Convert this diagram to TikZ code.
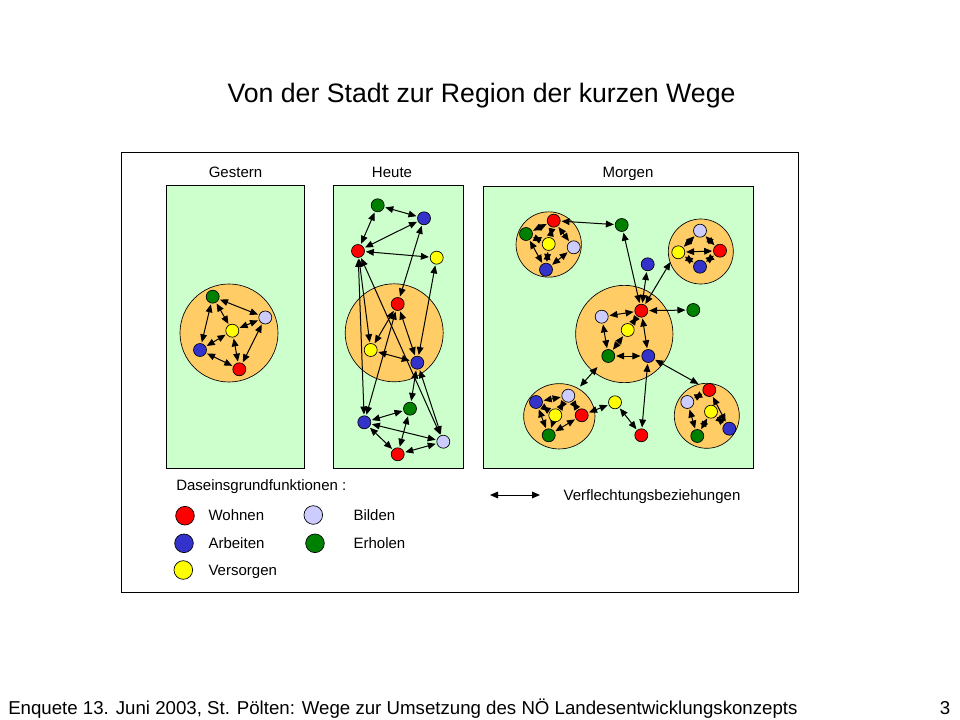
\documentclass[tikz,border=0pt]{standalone}
\usepackage{fontspec}
\setmainfont{Liberation Sans}
\usetikzlibrary{arrows.meta,shapes.geometric}
\definecolor{panelgreen}{RGB}{204,255,204}
\definecolor{zoneorange}{RGB}{255,204,102}
\definecolor{wred}{RGB}{255,0,0}
\definecolor{wblue}{RGB}{51,51,204}
\definecolor{wyellow}{RGB}{255,255,0}
\definecolor{wlav}{RGB}{204,204,255}
\definecolor{wgreen}{RGB}{0,128,0}
\pgfdeclarelayer{bg}
\pgfdeclarelayer{mid}
\pgfsetlayers{bg,mid,main}
\tikzset{
  fn/.style={circle, draw=black, line width=0.5pt, minimum size=9.75pt, inner sep=0pt, outer sep=0pt},
  Wo/.style={fn, fill=wred},
  Ar/.style={fn, fill=wblue},
  Ve/.style={fn, fill=wyellow},
  Bi/.style={fn, fill=wlav},
  Er/.style={fn, fill=wgreen},
  lfn/.style={circle, draw=black, line width=0.5pt, minimum size=14pt, inner sep=0pt},
  link/.style={line width=0.75pt, {Triangle[length=6pt,width=5pt]}-{Triangle[length=6pt,width=5pt]}, shorten <=1pt, shorten >=1pt},
  panel/.style={draw=black, line width=0.75pt, fill=panelgreen},
  zone/.style={circle, draw=black, line width=0.5pt, fill=zoneorange, inner sep=0pt},
  lbl/.style={font=\fontsize{11.25}{13}\selectfont, inner sep=0pt},
}
\begin{document}
\begin{tikzpicture}[x=0.75pt,y=-0.75pt]
\useasboundingbox (0,0) rectangle (960,720);

\begin{pgfonlayer}{bg}
\fill[white] (0,0) rectangle (960,720);
\draw[line width=0.75pt, fill=white] (121,153) rectangle (798,592);
\draw[panel] (166.5,186) rectangle (304.5,468);
\draw[panel] (333,186) rectangle (463.5,468);
\draw[panel] (483.5,186.5) rectangle (753,468);
\node[zone, minimum size=73.5pt] (gZone) at (229,333) {};
\node[zone, minimum size=73.5pt] (hZone) at (394.2,332.8) {};
\node[zone, minimum size=49pt] (tlZone) at (548.7,244.5) {};
\node[zone, minimum size=48.75pt] (trZone) at (700.8,251.5) {};
\node[zone, minimum size=73pt] (cZone) at (624.3,334) {};
\node[ellipse, draw=black, line width=0.5pt, fill=zoneorange, inner sep=0pt, minimum width=53.5pt, minimum height=49pt] (blZone) at (559.3,416.3) {};
\node[zone, minimum size=48.75pt] (brZone) at (706.8,415.8) {};
\end{pgfonlayer}

% title and footer
\node[font=\fontsize{20}{24}\selectfont, anchor=base, inner sep=0pt] (title) at (481.5,102.5) {Von der Stadt zur Region der kurzen Wege};
\node[font=\fontsize{14}{17}\selectfont, anchor=base west, inner sep=0pt] (foot) at (8,714.5) {Enquete 13. Juni 2003, St. Pölten: Wege zur Umsetzung des NÖ Landesentwicklungskonzepts};
\node[font=\fontsize{14}{17}\selectfont, anchor=base, inner sep=0pt] (pnum) at (945,714.5) {3};

% panel labels
\node[lbl, anchor=base] (lGestern) at (235.5,178) {Gestern};
\node[lbl, anchor=base] (lHeute) at (392,178) {Heute};
\node[lbl, anchor=base] (lMorgen) at (628,178) {Morgen};

% ---------- Gestern ----------
\node[Er] (gG) at (212.7,296.7) {};
\node[Bi] (gL) at (265.3,317.5) {};
\node[Ve] (gY) at (232.3,330.7) {};
\node[Ar] (gB) at (200,350) {};
\node[Wo] (gR) at (239.3,369.3) {};

% ---------- Heute ----------
\node[Er] (hGt) at (377.7,205.3) {};
\node[Ar] (hBt) at (424,218.3) {};
\node[Wo] (hRt) at (358,251) {};
\node[Ve] (hYt) at (436.7,257.7) {};
\node[Wo] (hRc) at (397.7,304) {};
\node[Ve] (hYc) at (370.7,350) {};
\node[Ar] (hBc) at (417.3,362.7) {};
\node[Er] (hGb) at (410,408.7) {};
\node[Ar] (hBb) at (364.3,422.3) {};
\node[Bi] (hLb) at (443.3,441.7) {};
\node[Wo] (hRb) at (397.7,454.3) {};

% ---------- Morgen ----------
% top-left cluster
\node[Wo] (tlR) at (553.7,220.7) {};
\node[Er] (tlG) at (526,234) {};
\node[Ve] (tlY) at (548.7,244) {};
\node[Bi] (tlL) at (573.7,247.3) {};
\node[Ar] (tlB) at (546,269.7) {};
% isolated
\node[Er] (mG1) at (621.7,225) {};
\node[Ar] (mB1) at (647.7,264.3) {};
\node[Er] (mG2) at (693.3,310) {};
\node[Ve] (mY1) at (615,402.3) {};
\node[Wo] (mR1) at (641.3,435.3) {};
% top-right cluster
\node[Bi] (trL) at (700,230.7) {};
\node[Ve] (trY) at (678.3,252.3) {};
\node[Wo] (trR) at (720,250.7) {};
\node[Ar] (trB) at (700,266.7) {};
% centre cluster
\node[Wo] (cR) at (641.3,310.7) {};
\node[Bi] (cL) at (601.7,316.7) {};
\node[Ve] (cY) at (627.7,330) {};
\node[Er] (cG) at (608.3,356) {};
\node[Ar] (cB) at (648.3,356) {};
% bottom-left cluster
\node[Ar] (blB) at (536,402) {};
\node[Bi] (blL) at (568.3,395.7) {};
\node[Ve] (blY) at (555.3,415.3) {};
\node[Wo] (blR) at (581.7,415.3) {};
\node[Er] (blG) at (548.7,435.3) {};
% bottom-right cluster
\node[Wo] (brR) at (709.3,390) {};
\node[Bi] (brL) at (687.3,402) {};
\node[Ve] (brY) at (711,411.7) {};
\node[Ar] (brB) at (729.3,428.7) {};
\node[Er] (brG) at (697.3,436) {};
% free ends on zone borders
\coordinate (trTip) at (670.5,262);
\coordinate (cBLa) at (597.5,367);
\coordinate (cBLb) at (580,386.5);
\coordinate (brTip) at (698.5,384);

% ---------- legend ----------
\node[lbl, anchor=base west] (lDas) at (176,490.7) {Daseinsgrundfunktionen :};
\node[lfn, fill=wred] (kWo) at (185,515.7) {};
\node[lfn, fill=wlav] (kBi) at (313.3,515) {};
\node[lfn, fill=wblue] (kAr) at (184,543.3) {};
\node[lfn, fill=wgreen] (kEr) at (315,543.3) {};
\node[lfn, fill=wyellow] (kVe) at (183.3,570) {};
\node[lbl, anchor=base west] (tWo) at (208.3,520) {Wohnen};
\node[lbl, anchor=base west] (tBi) at (353.3,520) {Bilden};
\node[lbl, anchor=base west] (tAr) at (208.3,548.3) {Arbeiten};
\node[lbl, anchor=base west] (tEr) at (353.3,548.3) {Erholen};
\node[lbl, anchor=base west] (tVe) at (208.3,575.7) {Versorgen};
\coordinate (va) at (490,495);
\coordinate (vb) at (540,495);
\node[lbl, anchor=base west] (tVf) at (563.3,500) {Verflechtungsbeziehungen};

\begin{pgfonlayer}{mid}
% Gestern links
\draw[link] (gG) -- (gL);
\draw[link] (gG) -- (gY);
\draw[link] (gG) -- (gB);
\draw[link] (gY) -- (gL);
\draw[link] (gY) -- (gB);
\draw[link] (gY) -- (gR);
\draw[link] (gB) -- (gR);
\draw[link] (gL) -- (gR);
% Heute links
\draw[link] (hGt) -- (hBt);
\draw[link] (hGt) -- (hRt);
\draw[link] (hRt) -- (hBt);
\draw[link] (hRt) -- (hYt);
\draw[link] (hBt) -- (hRc);
\draw[link] (hYt) -- (hBc);
\draw[link] (hRt) -- (hYc);
\draw[link] (hRt) -- (hBb);
\draw[link] (hRt) -- (hLb);
\draw[link] (hRc) -- (hYc);
\draw[link] (hRc) -- (hBc);
\draw[link] (hRc) -- (hBb);
\draw[link] (hYc) -- (hBc);
\draw[link] (hBc) -- (hGb);
\draw[link] (hBc) -- (hLb);
\draw[link] (hBb) -- (hGb);
\draw[link] (hBb) -- (hLb);
\draw[link] (hBb) -- (hRb);
\draw[link] (hRb) -- (hLb);
\draw[link] (hRb) -- (hGb);
% Morgen: top-left cluster
\draw[link] (tlR) -- (tlG);
\draw[link] (tlR) -- (tlY);
\draw[link] (tlR) -- (tlL);
\draw[link] (tlG) -- (tlY);
\draw[link] (tlG) -- (tlB);
\draw[link] (tlY) -- (tlB);
\draw[link] (tlB) -- (tlL);
% top-right cluster
\draw[link] (trL) -- (trY);
\draw[link] (trL) -- (trR);
\draw[link] (trY) -- (trR);
\draw[link] (trY) -- (trB);
\draw[link] (trB) -- (trR);
% centre cluster
\draw[link] (cL) -- (cR);
\draw[link] (cR) -- (cY);
\draw[link] (cL) -- (cG);
\draw[link] (cY) -- (cG);
\draw[link] (cG) -- (cB);
\draw[link] (cR) -- (cB);
% bottom-left cluster
\draw[link] (blB) -- (blL);
\draw[link] (blB) -- (blY);
\draw[link] (blL) -- (blY);
\draw[link] (blL) -- (blR);
\draw[link] (blB) -- (blG);
\draw[link] (blY) -- (blG);
\draw[link] (blG) -- (blR);
% bottom-right cluster
\draw[link] (brR) -- (brL);
\draw[link] (brR) -- (brB);
\draw[link] (brY) -- (brG);
\draw[link] (brL) -- (brG);
\draw[link] (brY) -- (brB);
% between clusters
\draw[link] (tlR) -- (mG1);
\draw[link] (mG1) -- (cR);
\draw[link] (mB1) -- (cR);
\draw[link, shorten >=0pt] (cR) -- (trTip);
\draw[link] (cR) -- (mG2);
\draw[link, shorten <=0pt, shorten >=0pt] (cBLa) -- (cBLb);
\draw[link, shorten >=0pt] (cB) -- (brTip);
\draw[link] (cB) -- (mR1);
\draw[link] (blR) -- (mY1);
\draw[link] (mY1) -- (mR1);
% legend arrow
\draw[link, shorten <=0pt, shorten >=0pt] (va) -- (vb);
\end{pgfonlayer}
\end{tikzpicture}
\end{document}
